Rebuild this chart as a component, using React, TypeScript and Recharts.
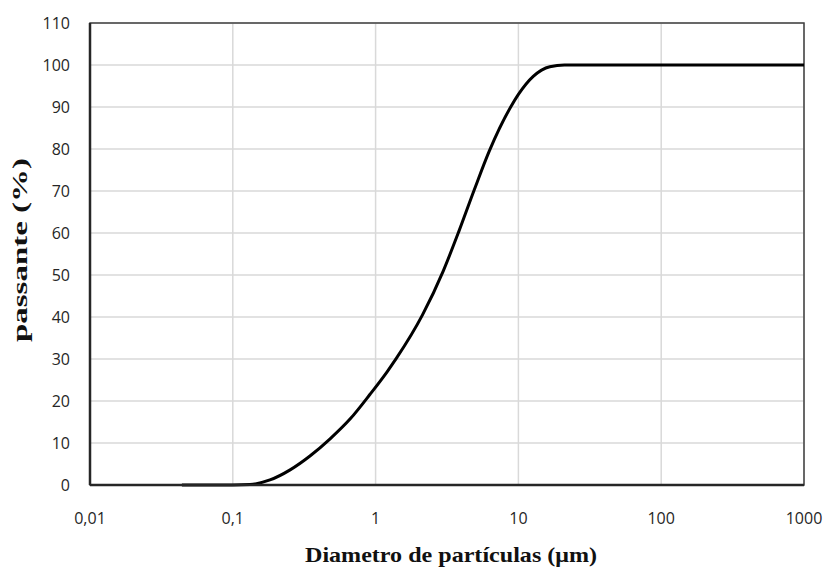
import React from 'react';
import {
  LineChart, Line, XAxis, YAxis, CartesianGrid, ReferenceArea, Label,
} from 'recharts';

// particle size distribution (cumulative passing)
const diameters = [
  0.044, 0.1, 0.132, 0.182, 0.252, 0.347, 0.48, 0.662, 0.914, 1.2,
  1.4, 2.13, 2.98, 3.84, 4.91, 6.25, 8.83, 10, 12.7, 16.6, 21, 30, 1000,
];
const passing = [
  0, 0, 0.1, 1.2, 3.6, 6.9, 11.0, 15.7, 21.6, 26.9,
  30.2, 40.5, 51, 60.5, 70.3, 79.5, 90, 93, 97.3, 99.6, 100, 100, 100,
];
const xTicks = [0.01, 0.1, 1, 10, 100, 1000];
const yTicks = [0, 10, 20, 30, 40, 50, 60, 70, 80, 90, 100, 110];

const data = diameters.map((d, i) => ({ d, p: passing[i] }));

const tickFont = { fontSize: 16, fill: '#262626', fontFamily: '"Open Sans", sans-serif' };
const labelFont = { fontSize: 21, fontWeight: 700, fill: '#111', fontFamily: '"Liberation Serif", serif' };

const fmtX = (v: number) => String(v).replace('.', ',');

export default function App() {
  return (
    <div style={{ width: 825, height: 571, background: '#fff' }}>
      <style>{'body{margin:0}'}</style>
      <LineChart width={825} height={571} data={data} margin={{ top: 23, right: 21, left: 30, bottom: 46 }}>
        <CartesianGrid stroke="#d9d9d9" strokeWidth={1.5} />
        <XAxis
          dataKey="d" type="number" scale="log" domain={[0.01, 1000]} ticks={xTicks}
          allowDataOverflow height={40} tickLine={false} tickMargin={22}
          axisLine={{ stroke: '#262626', strokeWidth: 2.5 }} tick={tickFont} tickFormatter={fmtX}
        >
          <Label
            content={() => (
              <text x={451} y={562} textAnchor="middle" textLength={292} lengthAdjust="spacingAndGlyphs" style={labelFont}>
                Diametro de partículas (μm)
              </text>
            )}
          />
        </XAxis>
        <YAxis
          type="number" domain={[0, 110]} ticks={yTicks} width={60} tickLine={false} tickMargin={14}
          axisLine={{ stroke: '#262626', strokeWidth: 2.5 }} tick={tickFont}
        >
          <Label
            content={() => (
              <text x={27} y={250} textAnchor="middle" transform="rotate(-90 27 250)"
                textLength={184} lengthAdjust="spacingAndGlyphs" style={labelFont}>
                passante (%)
              </text>
            )}
          />
        </YAxis>
        <ReferenceArea x1={0.01} x2={1000} y1={0} y2={110} fill="none" stroke="#404040" strokeWidth={1.5} ifOverflow="visible" />
        <Line type="monotone" dataKey="p" stroke="#000" strokeWidth={3} dot={false} isAnimationActive={false} />
      </LineChart>
    </div>
  );
}
